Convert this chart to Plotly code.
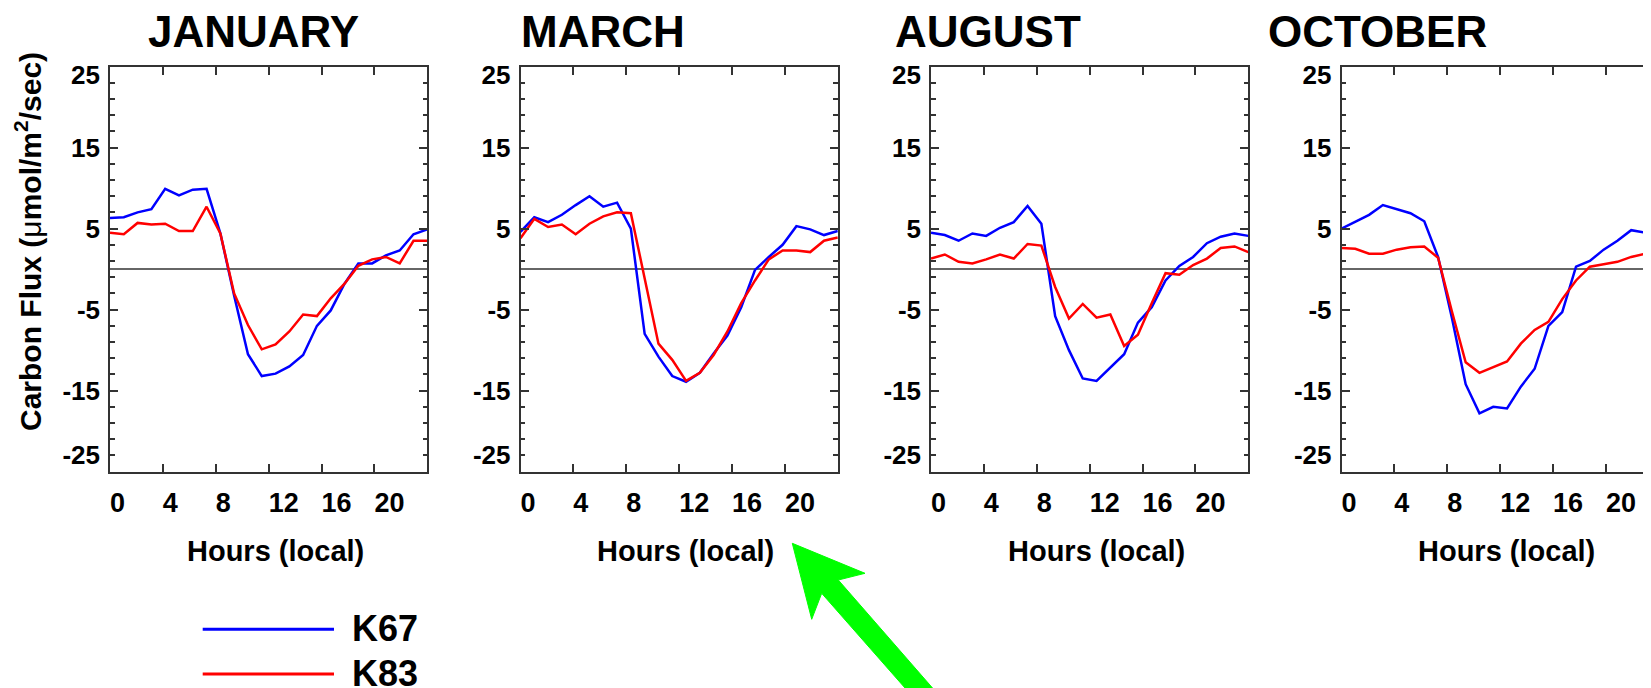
import plotly.graph_objects as go

# ---------------- data ----------------
hours = list(range(24))
months = ["JANUARY", "MARCH", "AUGUST", "OCTOBER"]
series_names = ["K67", "K83"]
series_colors = ["#0000FF", "#FF0000"]

jan_k67 = [6.3, 6.4, 7.0, 7.4, 9.9, 9.1, 9.8, 9.9, 4.4, -3.3, -10.5, -13.2, -12.9, -12.0, -10.6, -7.0, -5.1, -1.8, 0.7, 0.7, 1.7, 2.3, 4.3, 4.9]
jan_k83 = [4.5, 4.3, 5.7, 5.5, 5.6, 4.7, 4.7, 7.7, 4.4, -3.0, -6.9, -9.9, -9.3, -7.7, -5.6, -5.8, -3.6, -1.8, 0.4, 1.2, 1.5, 0.7, 3.5, 3.5]
mar_k67 = [4.6, 6.4, 5.8, 6.7, 7.9, 9.0, 7.7, 8.2, 5.0, -8.0, -10.8, -13.2, -13.9, -12.8, -10.4, -8.2, -4.7, -0.1, 1.5, 3.0, 5.3, 4.9, 4.2, 4.7]
mar_k83 = [3.8, 6.2, 5.2, 5.5, 4.3, 5.6, 6.5, 7.0, 6.9, -1.2, -9.2, -11.2, -13.8, -12.8, -10.6, -7.7, -4.2, -1.4, 1.2, 2.3, 2.3, 2.1, 3.5, 3.9]
aug_k67 = [4.5, 4.2, 3.5, 4.4, 4.1, 5.1, 5.8, 7.8, 5.6, -5.8, -10.0, -13.5, -13.8, -12.1, -10.5, -6.6, -4.7, -1.4, 0.4, 1.5, 3.2, 4.0, 4.4, 4.1]
aug_k83 = [1.3, 1.8, 0.9, 0.7, 1.2, 1.8, 1.3, 3.1, 2.9, -2.2, -6.1, -4.3, -6.0, -5.6, -9.5, -8.1, -4.2, -0.5, -0.7, 0.5, 1.3, 2.6, 2.8, 2.1]
oct_k67 = [5.0, 5.8, 6.7, 7.9, 7.4, 6.9, 5.9, 1.5, -6.0, -14.2, -17.8, -17.0, -17.2, -14.5, -12.3, -7.0, -5.3, 0.3, 1.0, 2.4, 3.5, 4.8, 4.5, 5.0]
oct_k83 = [2.6, 2.5, 1.9, 1.9, 2.4, 2.7, 2.8, 1.4, -5.2, -11.5, -12.8, -12.1, -11.4, -9.2, -7.5, -6.5, -3.7, -1.4, 0.3, 0.6, 0.9, 1.5, 1.9, 1.6]

panel_series = [(jan_k67, jan_k83), (mar_k67, mar_k83), (aug_k67, aug_k83), (oct_k67, oct_k83)]

x_tick_labels = ["0", "4", "8", "12", "16", "20"]
y_tick_labels = ["-25", "-15", "-5", "5", "15", "25"]
y_label_pos = [-22.95, -15, -5, 5, 15, 23.95]

# ---------------- layout helpers ----------------
# the page body has an 8px margin, so the figure is drawn 8px in from the window corner
OFF = 8
VW, VH = 1651, 688
W, H = VW - OFF, VH - OFF
FONT = "Liberation Sans, Arial, Helvetica, sans-serif"
AX = "#333333"
XT_SIZE = 27


def fx(p):
    return (p - OFF) / W


def fy(p):
    return 1 - (p - OFF) / H


panel_left = [110.0, 520.5, 931.0, 1341.5]
panel_w = 317.3
top_px, bot_px = 66.5, 471.7
XMAX = 23.0
px_per_hour = panel_w / XMAX

fig = go.Figure()
layout = {}
annotations = []
shapes = []

for i in range(4):
    n = i + 1
    sfx = "" if n == 1 else str(n)
    ov = str(n + 4)
    x0 = panel_left[i]
    x1 = min(x0 + panel_w, VW)
    xr = XMAX * (x1 - x0) / panel_w
    last = (i == 3)

    # zero line on base axes
    fig.add_trace(go.Scatter(x=[0, XMAX], y=[0, 0], mode="lines",
                             line=dict(color=AX, width=1.5),
                             xaxis="x" + sfx, yaxis="y" + sfx,
                             showlegend=False, hoverinfo="skip"))
    # data on overlay axes (same scales)
    for vals, name, col in zip(panel_series[i], series_names, series_colors):
        fig.add_trace(go.Scatter(x=hours, y=vals, mode="lines", name=name,
                                 line=dict(color=col, width=2.5),
                                 xaxis="x" + ov, yaxis="y" + ov,
                                 showlegend=False))

    tickvals = [k * XMAX / 6 for k in range(6)]
    # labels sit to the right of each tick mark (left-aligned on it)
    labelvals = [v + (len(t) * 0.556 * XT_SIZE / 2) / px_per_hour
                 for v, t in zip(tickvals, x_tick_labels)]
    layout["xaxis" + sfx] = dict(
        domain=[fx(x0), fx(x1)], range=[0, xr], anchor="y" + sfx,
        tickmode="array", tickvals=tickvals, showticklabels=False,
        ticks="inside", ticklen=8, tickwidth=1.5, tickcolor=AX,
        showline=True, linecolor=AX, linewidth=2, mirror="ticks",
        showgrid=False, zeroline=False, automargin=False,
    )
    layout["xaxis" + ov] = dict(
        overlaying="x" + sfx, anchor="y" + sfx, side="bottom",
        range=[0, xr], tickmode="array", tickvals=labelvals,
        ticktext=x_tick_labels, tickangle=0, ticks="", showline=False,
        showgrid=False, zeroline=False, automargin=False,
        tickfont=dict(family=FONT, size=XT_SIZE, color="black", weight="bold"),
        ticklabelstandoff=12,
    )
    layout["yaxis" + sfx] = dict(
        domain=[fy(bot_px), fy(top_px)], range=[-25, 25], anchor="x" + sfx,
        tickmode="linear", tick0=-25, dtick=10,
        ticks="inside", ticklen=8, tickwidth=1.5, tickcolor=AX,
        minor=dict(tickmode="linear", tick0=-25, dtick=2, ticks="inside",
                   ticklen=4.5, tickwidth=1.5, tickcolor=AX),
        showticklabels=False,
        showline=True, linecolor=AX, linewidth=2,
        mirror=False if last else "ticks",
        showgrid=False, zeroline=False, automargin=False,
    )
    layout["yaxis" + ov] = dict(
        overlaying="y" + sfx, anchor="x" + sfx, side="left",
        range=[-25, 25], tickmode="array", tickvals=y_label_pos,
        ticktext=y_tick_labels, ticks="", showline=False,
        showgrid=False, zeroline=False, automargin=False,
        tickfont=dict(family=FONT, size=26, color="black", weight="bold"),
        ticklabelstandoff=9,
    )

    # month title
    title_cx = [253.5, 602.7, 987.5, 1377.7][i]
    annotations.append(dict(text=months[i], x=fx(title_cx), y=fy(32), xref="paper", yref="paper",
                            xanchor="center", yanchor="middle", showarrow=False,
                            font=dict(family=FONT, size=44, color="black", weight="bold")))
    # x-axis title
    annotations.append(dict(text="Hours (local)", x=fx((x0 + x0 + panel_w) / 2 + 6.5), y=fy(551),
                            xref="paper", yref="paper", xanchor="center", yanchor="middle",
                            showarrow=False,
                            font=dict(family=FONT, size=29, color="black", weight="bold")))

# y-axis title
annotations.append(dict(text="Carbon Flux (<span style='font-weight:normal'>\u03bc</span>mol/m<sup>2</sup>/sec)",
                        x=fx(28), y=fy(242), xref="paper", yref="paper",
                        xanchor="center", yanchor="middle", textangle=-90, showarrow=False,
                        font=dict(family=FONT, size=30, color="black", weight="bold")))

# legend key
leg_y = [629.3, 674.0]
for name, col, yy in zip(series_names, series_colors, leg_y):
    shapes.append(dict(type="line", xref="paper", yref="paper",
                       x0=fx(202.7), x1=fx(334), y0=fy(yy), y1=fy(yy),
                       line=dict(color=col, width=3)))
    annotations.append(dict(text=name, x=fx(350), y=fy(yy - 1), xref="paper", yref="paper",
                            xanchor="left", yanchor="middle", showarrow=False,
                            font=dict(family=FONT, size=36, color="black", weight="bold")))

# green arrow graphic
arrow_px = [(792.3, 543.3), (865.0, 573.3), (838.3, 580.0), (943.0, 700.0),
            (915.6, 700.0), (821.7, 593.3), (811.7, 619.3)]
path = "M " + " L ".join(f"{fx(a):.5f},{fy(b):.5f}" for a, b in arrow_px) + " Z"
shapes.append(dict(type="path", xref="paper", yref="paper", path=path,
                   fillcolor="#00FF00", line=dict(color="#00FF00", width=1)))

fig.update_layout(
    width=W, height=H, template="none",
    paper_bgcolor="white", plot_bgcolor="white",
    margin=dict(l=0, r=0, t=0, b=0, autoexpand=False),
    showlegend=False, annotations=annotations, shapes=shapes,
    font=dict(family=FONT, color="black"),
    **layout,
)

fig.write_html("out.html")
